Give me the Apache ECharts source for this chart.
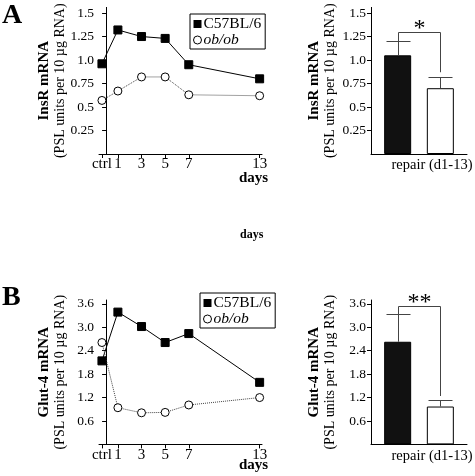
<!DOCTYPE html>
<html>
<head>
<meta charset="utf-8">
<script src="https://cdn.jsdelivr.net/npm/echarts@6/dist/echarts.min.js"></script>
<style>
html,body{margin:0;padding:0;background:#fff;}
#chart{width:475px;height:476px;}
</style>
</head>
<body>
<div id="chart"></div>
<script>
// ---- data ----
const dayLabels = ['ctrl', '1', '3', '5', '7', '13'];
const dayValues = [-0.35, 1, 3, 5, 7, 13];
const seriesNames = ['C57BL/6', 'ob/ob'];
const insrC57 = [0.96, 1.32, 1.25, 1.23, 0.95, 0.80];
const insrOb = [0.57, 0.67, 0.82, 0.82, 0.63, 0.62];
const glutC57 = [2.14, 3.39, 3.02, 2.61, 2.84, 1.59];
const glutOb = [2.61, 0.94, 0.81, 0.82, 1.01, 1.20];
const repairCategories = ['repair (d1-13)'];
const insrRepairMean = [1.05, 0.70];
const insrRepairErr = [0.15, 0.12];
const glutRepairMean = [2.63, 0.97];
const glutRepairErr = [0.71, 0.17];
const insrTicks = [0.25, 0.5, 0.75, 1.0, 1.25, 1.5];
const glutTicks = [0.6, 1.2, 1.8, 2.4, 3.0, 3.6];
const insrSig = { text: '*', top: 1.30, rightEnd: 0.87 };
const glutSig = { text: '**', top: 3.55, rightEnd: 1.24 };

// ---- styles ----
const SERIF = 'Liberation Serif';
const BAR_W = 27;
const BAR_GAP = '58%';
const BAR_OFFSET = 21.3;
const CAP = 12;

const pairs = v => dayValues.map((d, i) => [d, v[i]]);

function yName(title) {
  return '{b|' + title + '}\n{n|(PSL units per 10 µg RNA)}';
}
const nameRich = {
  b: { fontFamily: SERIF, fontWeight: 'bold', fontSize: 15, lineHeight: 16, color: '#000' },
  n: { fontFamily: SERIF, fontSize: 14, lineHeight: 16, color: '#000' }
};
const axisLineStyle = { show: true, lineStyle: { color: '#000', width: 1 } };

function yAxis(grid, max, ticks, fmt, title, gap) {
  return {
    type: 'value', gridIndex: grid, min: 0, max: max,
    axisLine: axisLineStyle,
    axisTick: { show: true, length: 4, customValues: ticks, lineStyle: { color: '#000' } },
    axisLabel: { customValues: ticks, formatter: fmt, fontFamily: SERIF, fontSize: 13.5, color: '#000', margin: 5 },
    splitLine: { show: false },
    name: yName(title), nameLocation: 'middle', nameRotate: 90, nameGap: gap, nameMoveOverlap: false,
    nameTextStyle: { lineHeight: 16, rich: nameRich }
  };
}
function dayAxis(grid) {
  return {
    type: 'value', gridIndex: grid, min: -0.6, max: 13.2,
    axisLine: axisLineStyle,
    axisTick: { show: true, length: 4, customValues: dayValues, lineStyle: { color: '#000' } },
    axisLabel: {
      customValues: dayValues, fontFamily: SERIF, fontSize: 15, color: '#000', margin: 3,
      formatter: v => dayLabels[dayValues.indexOf(v)]
    },
    splitLine: { show: false }
  };
}
function barAxis(grid) {
  return {
    type: 'category', gridIndex: grid, data: repairCategories,
    axisLine: axisLineStyle, axisTick: { show: false },
    axisLabel: {
      fontFamily: SERIF, fontSize: 14.5, color: '#000', margin: 4,
      formatter: v => '{a|' + v + '}',
      rich: { a: { fontFamily: SERIF, fontSize: 14.5, color: '#000', padding: [0, 0, 0, 26] } }
    }
  };
}
function lineSeries(xi, name, data) {
  const isC57 = name === seriesNames[0];
  return {
    type: 'line', name: name, xAxisIndex: xi, yAxisIndex: xi, data: pairs(data),
    symbol: isC57 ? 'rect' : 'circle', symbolSize: 8, z: 3,
    itemStyle: isC57 ? { color: '#000', borderColor: '#000' } : { color: '#fff', borderColor: '#000', borderWidth: 1 },
    lineStyle: { color: isC57 ? '#000' : '#444', width: 1, type: isC57 ? 'solid' : 'dotted' },
    emphasis: { disabled: true }, animation: false
  };
}
function barSeries(xi, idx, means) {
  const isC57 = idx === 0;
  return {
    type: 'bar', name: seriesNames[idx], xAxisIndex: xi, yAxisIndex: xi,
    data: [means[idx]], barWidth: BAR_W, barGap: BAR_GAP,
    itemStyle: { color: isC57 ? '#111' : '#fff', borderColor: '#000', borderWidth: 1 },
    animation: false
  };
}
function errSeries(xi, means, errs) {
  return {
    type: 'custom', xAxisIndex: xi, yAxisIndex: xi, z: 5, animation: false, silent: true,
    data: means.map((m, i) => [0, m, errs[i], i === 0 ? -1 : 1]),
    renderItem: (p, api) => {
      const c = api.coord([api.value(0), api.value(1)]);
      const t = api.coord([api.value(0), api.value(1) + api.value(2)]);
      const x = Math.round(c[0] + api.value(3) * BAR_OFFSET) + 0.5;
      const ty = Math.round(t[1]) + 0.5;
      const st = { stroke: '#444', lineWidth: 1 };
      return { type: 'group', children: [
        { type: 'line', shape: { x1: x, y1: c[1], x2: x, y2: ty }, style: st },
        { type: 'line', shape: { x1: x - CAP, y1: ty, x2: x + CAP, y2: ty }, style: st }
      ] };
    }
  };
}
function sigSeries(xi, means, errs, sig) {
  return {
    type: 'custom', xAxisIndex: xi, yAxisIndex: xi, z: 5, animation: false, silent: true,
    data: [[0, means[0] + errs[0], sig.top, sig.rightEnd]],
    renderItem: (p, api) => {
      const cx = api.coord([api.value(0), 0])[0];
      const xl = Math.round(cx - BAR_OFFSET) + 0.5, xr = Math.round(cx + BAR_OFFSET) + 0.5;
      const yl = api.coord([0, api.value(1)])[1];
      const yt = Math.round(api.coord([0, api.value(2)])[1]) + 0.5;
      const yr = api.coord([0, api.value(3)])[1];
      return { type: 'group', children: [
        { type: 'polyline', shape: { points: [[xl, yl], [xl, yt], [xr, yt], [xr, yr]] }, style: { stroke: '#444', lineWidth: 1, fill: null } },
        { type: 'text', style: { x: (xl + xr) / 2, y: yt + 8, text: sig.text, fontFamily: SERIF, fontSize: 24, fill: '#000', align: 'center', verticalAlign: 'bottom' } }
      ] };
    }
  };
}
function legend(left, top) {
  return {
    left: left, top: top, orient: 'vertical', itemGap: 0, itemWidth: 8, itemHeight: 8,
    borderColor: '#000', borderWidth: 1, padding: [2, 4, 1, 3],
    data: [
      { name: seriesNames[0], icon: 'rect', itemStyle: { color: '#000' } },
      { name: seriesNames[1], icon: 'circle', itemStyle: { color: '#fff', borderColor: '#000', borderWidth: 1 } }
    ],
    selectedMode: false,
    formatter: n => n === 'ob/ob' ? '{i|' + n + '}' : n,
    textStyle: { fontFamily: SERIF, fontSize: 15.5, color: '#000', lineHeight: 13, padding: [0, 0, 0, -3],
      rich: { i: { fontFamily: SERIF, fontSize: 15.5, fontStyle: 'italic', color: '#000', lineHeight: 13 } } }
  };
}

const fmtInsr = v => v === 1 ? '1.0' : String(v);
const fmtGlut = v => v.toFixed(1);
const boldText = (x, y, t, size) => ({ type: 'text', left: x, top: y, style: { text: t, fontFamily: SERIF, fontWeight: 'bold', fontSize: size, fill: '#000' } });
const gridBox = (left, top, width, height) => ({ left: left, top: top, width: width, height: height, outerBoundsMode: 'none', containLabel: false });

const option = {
  backgroundColor: '#fff',
  animation: false,
  grid: [
    gridBox(99, 7.4, 163, 146.6),
    gridBox(371, 7.4, 96, 146.6),
    gridBox(99, 300, 163, 144.4),
    gridBox(371, 300, 96, 144.4)
  ],
  xAxis: [dayAxis(0), barAxis(1), dayAxis(2), barAxis(3)],
  yAxis: [
    yAxis(0, 1.56, insrTicks, fmtInsr, 'InsR mRNA', 31),
    yAxis(1, 1.56, insrTicks, fmtInsr, 'InsR mRNA', 33),
    yAxis(2, 3.7, glutTicks, fmtGlut, 'Glut-4 mRNA', 31),
    yAxis(3, 3.7, glutTicks, fmtGlut, 'Glut-4 mRNA', 33)
  ],
  legend: [legend(190, 14), legend(200, 293)],
  series: [
    lineSeries(0, seriesNames[0], insrC57),
    lineSeries(0, seriesNames[1], insrOb),
    barSeries(1, 0, insrRepairMean),
    barSeries(1, 1, insrRepairMean),
    errSeries(1, insrRepairMean, insrRepairErr),
    sigSeries(1, insrRepairMean, insrRepairErr, insrSig),
    lineSeries(2, seriesNames[0], glutC57),
    lineSeries(2, seriesNames[1], glutOb),
    barSeries(3, 0, glutRepairMean),
    barSeries(3, 1, glutRepairMean),
    errSeries(3, glutRepairMean, glutRepairErr),
    sigSeries(3, glutRepairMean, glutRepairErr, glutSig)
  ],
  graphic: [
    boldText(2, 2, 'A', 28),
    boldText(2, 284, 'B', 28),
    boldText(239, 171, 'days', 15),
    boldText(239, 458, 'days', 15),
    boldText(240, 229, 'days', 12)
  ]
};

const chart = echarts.init(document.getElementById('chart'), null, { renderer: 'canvas' });
chart.setOption(option);
</script>
</body>
</html>
